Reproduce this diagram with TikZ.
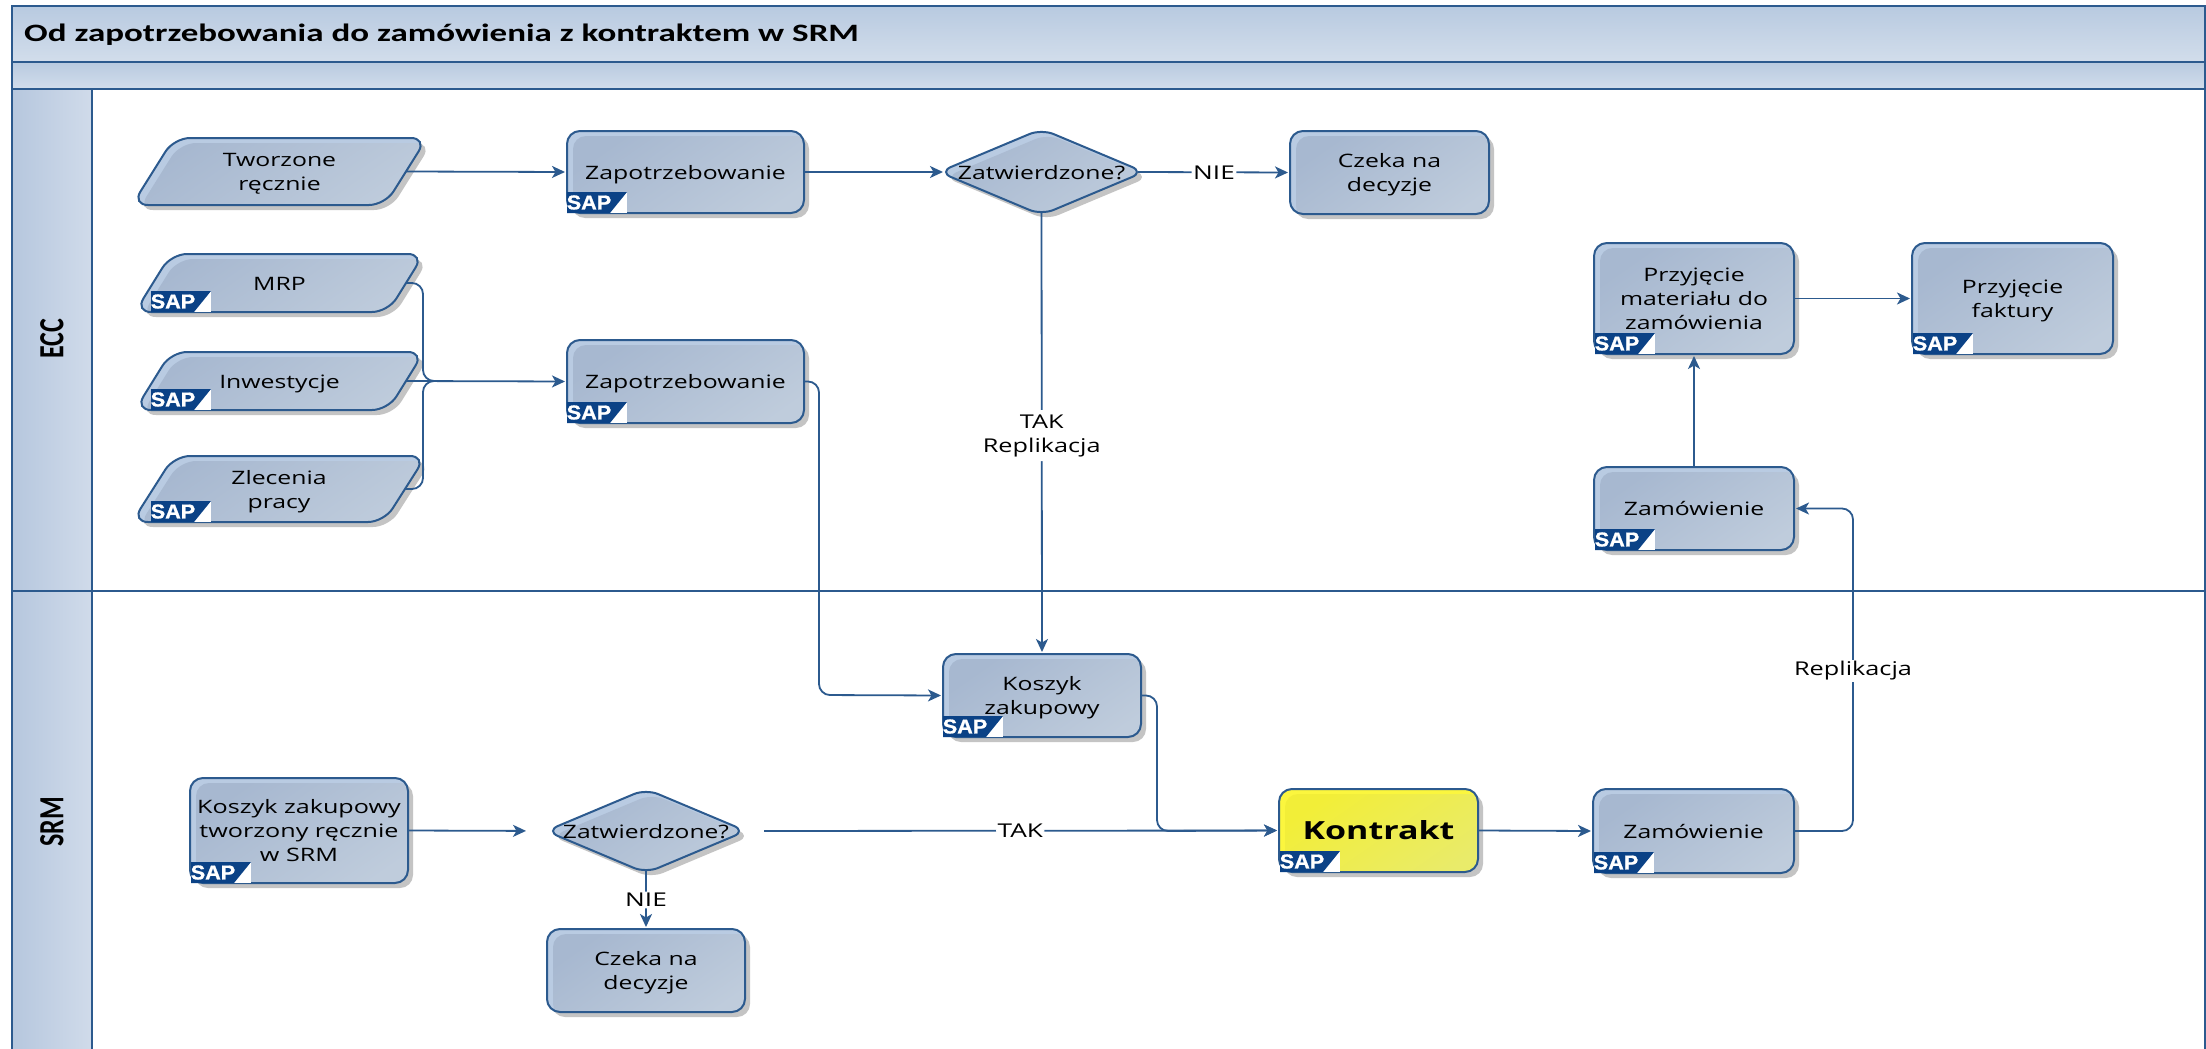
\documentclass[tikz,border=0pt]{standalone}
\usepackage{fontspec}
\usepackage{graphicx}
\setmainfont{Open Sans}
\newfontfamily\sapfont[FakeBold=1.2]{Liberation Sans Bold}
\newfontfamily\headfont{Carlito}
\usetikzlibrary{arrows.meta}
\definecolor{lnc}{HTML}{2C5A8E}
\definecolor{shc}{HTML}{C4C4C4}
\definecolor{bluA}{HTML}{A7B8D0}
\definecolor{bluB}{HTML}{BFCCDC}
\definecolor{bluH}{HTML}{B9CBE2}
\definecolor{yelA}{HTML}{F2EE38}
\definecolor{yelB}{HTML}{E9EB6A}
\definecolor{yelH}{HTML}{FBF63E}
\definecolor{sapb}{HTML}{0B4286}
\definecolor{bandA}{HTML}{B8CAE0}
\definecolor{bandB}{HTML}{D2DDEB}
\definecolor{laneA}{HTML}{B6C7DE}
\definecolor{laneB}{HTML}{D0DBEA}
\tikzset{
  x=1pt,y=-1pt,
  conn/.style={draw=lnc,line width=1.8pt,rounded corners=11pt,shorten >=2pt,-{Stealth[length=13pt,width=12pt,inset=3.5pt]}},
  plain conn/.style={draw=lnc,line width=1.8pt,rounded corners=11pt},
  outline/.style={draw=lnc,line width=2pt},
  txt/.style={inner sep=0pt,outer sep=0pt,align=center},
  lab/.style={fill=white,inner sep=1.5pt,font=\fontsize{19}{24}\selectfont},
}
\newcommand\stx[2][1.34]{\raisebox{-2.5pt}[\height][\depth]{\scalebox{#1}[1]{\fontsize{18.5}{24}\selectfont\begin{tabular}{@{}c@{}}#2\end{tabular}}}}
% generic body: [colour prefix]{path}
\newcommand\body[2][blu]{%
  \fill[shc,shift={(5,5)}] #2;
  \begin{scope}
    \clip #2;
    \fill[#1H] #2;
    \shade[left color=#1A,right color=#1B,shading angle=35,shift={(6,5)}] #2;
  \end{scope}
  \draw[outline] #2;
}
% SAP logo: left, bottom
\newcommand\sap[3]{%
  \fill[white] (#2,#3) rectangle ++(60,-21);
  \fill[sapb] (#2,#3) -- ++(0,-21) -- ++(60,0) -- ++(-17,21) -- cycle;
  \node[inner sep=0pt,text=white,font=\sapfont\fontsize{20}{20}\selectfont] (#1) at (#2+22,#3-10.5) {\scalebox{1.08}[1]{SAP}};
}
% rect
\newcommand\bx[7][blu]{%
  \body[#1]{[rounded corners=13pt] (#3,#4) -- (#5,#4) -- (#5,#6) -- (#3,#6) -- cycle}
  \node[txt,minimum width={(#5-#3)*1pt},minimum height={(#6-#4)*1pt}] (#2) at ({(#3+#5)/2},{(#4+#6)/2}) {#7};
}
% parallelogram
\newcommand\pa[7]{%
  \body{[rounded corners=16pt] (#2+#6,#3) -- (#4,#3) -- (#4-#6,#5) -- (#2,#5) -- cycle}
  \node[txt,minimum width={(#4-#2-#6)*1pt},minimum height={(#5-#3)*1pt}] (#1) at ({(#2+#4)/2},{(#3+#5)/2}) {#7};
}
% diamond: node is the visible (rounded) extent of the polygon
\newcommand\dm[6]{%
  \body{[rounded corners=13pt] (#2,{(#3+#5)/2}) -- ({(#2+#4)/2},#3) -- (#4,{(#3+#5)/2}) -- ({(#2+#4)/2},#5) -- cycle}
  \node[txt,minimum width={(#4-#2-12)*1pt},minimum height={(#5-#3-4)*1pt}] (#1) at ({(#2+#4)/2},{(#3+#5)/2}) {#6};
}
\begin{document}
\begin{tikzpicture}
\useasboundingbox (0,0) rectangle (2206,1049);
\fill[white] (0,0) rectangle (2206,1049);
% bands
\path[shade,top color=bandA,bottom color=bandB] (12,6) rectangle (2206,62);
\path[shade,top color=bandA,bottom color=bandB] (12,62) rectangle (2206,89);
\path[shade,left color=laneA,right color=laneB,shading angle=90] (12,89) rectangle (92,591);
\path[shade,left color=laneA,right color=laneB,shading angle=90] (12,591) rectangle (92,1049);
\draw[outline] (12,1049) -- (12,6) -- (2205,6) -- (2205,1049);
\draw[outline] (12,62) -- (2206,62);
\draw[outline] (12,89) -- (2206,89);
\draw[outline] (92,89) -- (92,1049);
\draw[outline] (12,591) -- (2206,591);
\node[inner sep=0pt,anchor=west,font=\headfont\bfseries\fontsize{25}{28}\selectfont] (title) at (24,35) {\scalebox{1.4}[1]{Od zapotrzebowania do zamówienia z kontraktem w SRM}};
\node[inner sep=0pt,rotate=90,font=\headfont\bfseries\fontsize{26}{30}\selectfont] (ecc) at (52,339) {\scalebox{1}[1.36]{ECC}};
\node[inner sep=0pt,rotate=90,font=\headfont\bfseries\fontsize{26}{30}\selectfont] (srm) at (52,822) {\scalebox{1}[1.36]{SRM}};
% ECC lane
\pa{tworz}{132}{138}{427}{205}{42}{\stx{Tworzone\\ręcznie}}
\pa{mrp}{135}{254}{424}{312}{36}{\stx{MRP}}
\pa{inw}{135}{352}{424}{410}{36}{\stx{Inwestycje}}
\pa{zlec}{132}{456}{426}{522}{42}{\stx{Zlecenia\\pracy}}
\bx{zap1}{567}{131}{804}{213}{\stx{Zapotrzebowanie}}
\bx{zap2}{567}{340}{804}{423}{\stx{Zapotrzebowanie}}
\dm{zat1}{939}{129}{1144}{215}{\stx{Zatwierdzone?}}
\bx{cz1}{1290}{131}{1489}{214}{\stx{Czeka na\\decyzje}}
\bx{pm}{1594}{243}{1794}{354}{\stx{Przyjęcie\\materiału do\\zamówienia}}
\bx{pf}{1912}{243}{2113}{354}{\stx{Przyjęcie\\faktury}}
\bx{zam2}{1594}{467}{1794}{550}{\stx{Zamówienie}}
% SRM lane
\bx{kosz}{943}{654}{1141}{737}{\stx{Koszyk\\zakupowy}}
\bx{koszr}{190}{778}{408}{883}{\stx[1.36]{Koszyk zakupowy\\tworzony ręcznie\\w SRM}}
\dm{zat2}{546}{789}{746}{873}{\stx[1.33]{Zatwierdzone?}}
\bx{cz2}{547}{929}{745}{1012}{\stx{Czeka na\\decyzje}}
\bx[yel]{kon}{1279}{789}{1478}{872}{\raisebox{1pt}{\scalebox{1.36}[1]{\bfseries\fontsize{25}{30}\selectfont Kontrakt}}}
\bx{zam3}{1593}{789}{1794}{873}{\stx{Zamówienie}}
% logos
\sap{s1}{151}{312}
\sap{s2}{151}{410}
\sap{s3}{151}{522}
\sap{s4}{567}{213}
\sap{s5}{567}{423}
\sap{s6}{1595}{354}
\sap{s7}{1913}{354}
\sap{s8}{1595}{550}
\sap{s9}{943}{737}
\sap{s10}{191}{883}
\sap{s11}{1280}{872}
\sap{s12}{1594}{873}
% connectors
\coordinate (jn) at (423,381);
\coordinate (jo) at (437,381);
\draw[conn] (tworz.east) -- (zap1.west);
\draw[conn] (zap1.east) -- (zat1.west);
\draw[conn] (zat1.east) -- node[lab] (lnie1) {\scalebox{1.38}[1]{NIE}} (cz1.west);
\draw[plain conn] (mrp.east) -- (mrp.east -| jn) -- (jn) -- (jo);
\draw[plain conn] (zlec.east) -- (zlec.east -| jn) -- (jn) -- (jo);
\draw[conn] (inw.east) -- (zap2.west);
\coordinate (zv) at (819,695);
\draw[conn] (zap2.east) -- (zap2.east -| zv) -- (zv) -- (kosz.west);
\draw[conn] (zat1.south) -- node[lab,pos=.505,align=center] (ltak1) {\scalebox{1.33}[1]{\begin{tabular}{@{}c@{}}TAK\\Replikacja\end{tabular}}} (kosz.north);
\coordinate (kv) at (1157,831);
\draw[conn] (kosz.east) -- (kosz.east -| kv) -- (kv) -- (kon.west);
\draw[conn,shorten >=26pt] (koszr.east) -- (zat2.west);
\draw[conn,shorten <=24pt] (zat2.east) -- node[lab,pos=.52] (ltak2) {\scalebox{1.38}[1]{TAK}} (kon.west);
\draw[conn] (zat2.south) -- node[lab,pos=.5] (lnie2) {\scalebox{1.38}[1]{NIE}} (cz2.north);
\draw[conn] (kon.east) -- (zam3.west);
\coordinate (rv) at (1853,671);
\draw[conn] (zam3.east) -- (zam3.east -| rv) -- (rv) -- (rv |- zam2.east) -- (zam2.east);
\node[lab] (lrep) at (rv) {\scalebox{1.33}[1]{Replikacja}};
\draw[conn] (zam2.north) -- (pm.south);
\draw[conn] (pm.east) -- (pf.west);
\end{tikzpicture}
\end{document}
